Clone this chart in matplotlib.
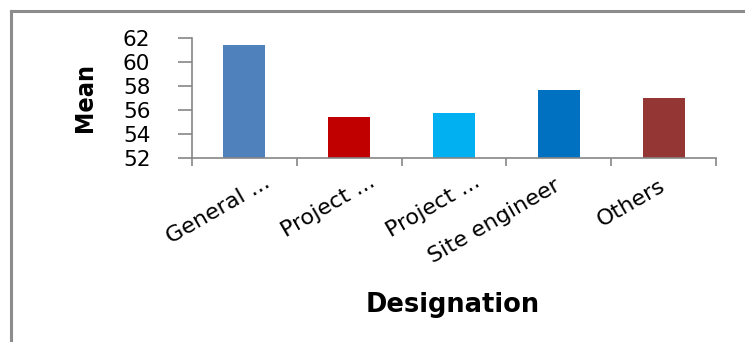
import matplotlib
matplotlib.use("Agg")
import matplotlib.pyplot as plt
import matplotlib.transforms as mtransforms
from matplotlib.lines import Line2D
import numpy as np

# mean score per designation
designations = ["General ...", "Project ...", "Project ...", "Site engineer", "Others"]
means = [61.45, 55.4, 55.8, 57.65, 57.05]
bar_colors = ["#4F81BD", "#C00000", "#00B0F0", "#0070C0", "#943634"]
y_ticks = [52, 54, 56, 58, 60, 62]

fig = plt.figure(figsize=(7.45, 3.42), dpi=100)
ax = fig.add_axes([192 / 745, 1 - 158 / 342, (716 - 192) / 745, (158 - 38.3) / 342])

x = np.arange(len(designations))
ax.bar(x, means, width=0.4, color=bar_colors)

ax.set_xlim(-0.5, len(designations) - 0.5)
ax.set_ylim(52, 62)
ax.set_yticks(y_ticks)
ax.set_yticklabels([str(v) for v in y_ticks], fontsize=15.5)

# labels at category centres, tick marks at the boundaries
ax.set_xticks(x)
ax.set_xticklabels(designations, rotation=30, ha="right", va="center",
                   rotation_mode="anchor", fontsize=16)
ax.set_xticks(np.arange(-0.5, len(designations)), minor=True)
ax.tick_params(axis="x", which="major", length=0, pad=19)
ax.tick_params(axis="x", which="minor", length=6, color="#868686", width=1.2)
ax.tick_params(axis="y", length=10, color="#868686", width=1.2, pad=20)

# truncated names sit a little further right
for lbl in ax.get_xticklabels():
    if lbl.get_text().endswith("..."):
        lbl.set_transform(lbl.get_transform() +
                          mtransforms.ScaledTranslation(24 / 100, 4 / 100, fig.dpi_scale_trans))

for side in ["top", "right"]:
    ax.spines[side].set_visible(False)
for side in ["left", "bottom"]:
    ax.spines[side].set_color("#868686")
    ax.spines[side].set_linewidth(1.2)

fig.text(85 / 745, 1 - 98 / 342, "Mean", rotation=90, ha="center", va="center",
         fontsize=18, fontweight="bold", fontstretch="condensed",
         family=["DejaVu Sans Condensed", "Liberation Sans Narrow", "DejaVu Sans"])
fig.text(453 / 745, 1 - 305 / 342, "Designation", ha="center", va="center",
         fontsize=18.5, fontweight="bold")

# outer chart frame (only top and left edges fall inside the image)
fig.add_artist(Line2D([10.5 / 745, 10.5 / 745], [0, 1 - 11 / 342], color="#8c8c8c",
                      lw=2.2, transform=fig.transFigure, solid_capstyle="projecting"))
fig.add_artist(Line2D([10.5 / 745, 1], [1 - 11 / 342, 1 - 11 / 342], color="#8c8c8c",
                      lw=2.2, transform=fig.transFigure, solid_capstyle="projecting"))

fig.savefig("out.png", dpi=100)
